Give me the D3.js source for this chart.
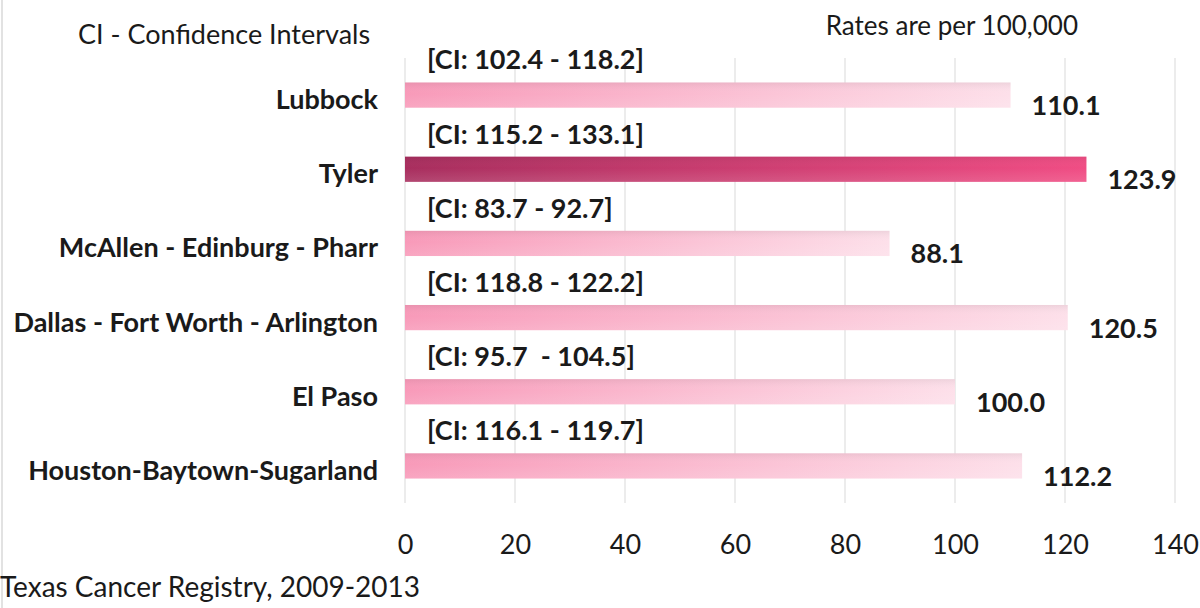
<!DOCTYPE html>
<html>
<head>
<meta charset="utf-8">
<script src="https://cdn.jsdelivr.net/npm/d3@7"></script>
<style>
  body { margin: 0; background: #fff; }
  svg text { font-family: Lato, "Open Sans", sans-serif; fill: #1a1a1a; }
</style>
</head>
<body>
<svg id="chart" width="1200" height="608"></svg>
<script>
// data
const areas = ['Lubbock', 'Tyler', 'McAllen - Edinburg - Pharr', 'Dallas - Fort Worth - Arlington', 'El Paso', 'Houston-Baytown-Sugarland'];
const rates = [110.1, 123.9, 88.1, 120.5, 100.0, 112.2];
const ciLabels = ['[CI: 102.4 - 118.2]', '[CI: 115.2 - 133.1]', '[CI: 83.7 - 92.7]', '[CI: 118.8 - 122.2]', '[CI: 95.7  - 104.5]', '[CI: 116.1 - 119.7]'];
const highlight = ['Tyler'];
const xTicks = [0, 20, 40, 60, 80, 100, 120, 140];

const width = 1200;
const height = 608;
const margin = { top: 58, right: 25, bottom: 105, left: 405 };

const svg = d3.select('#chart');

// left border of the picture
svg.append('line')
    .attr('x1', 2).attr('x2', 2).attr('y1', 0).attr('y2', height)
    .attr('stroke', '#d9d9d9').attr('stroke-width', 1.5);

const x = d3.scaleLinear().domain([0, 140]).range([margin.left, width - margin.right]);
const y = d3.scaleBand().domain(areas).range([margin.top, height - margin.bottom]).paddingInner(0.66).paddingOuter(0.33);

// gradients
const defs = svg.append('defs');
function hGrad(id, c1, c2) {
    const g = defs.append('linearGradient').attr('id', id).attr('x1', 0).attr('x2', 1).attr('y1', 0).attr('y2', 0);
    g.append('stop').attr('offset', '0%').attr('stop-color', c1);
    g.append('stop').attr('offset', '100%').attr('stop-color', c2);
}
hGrad('pale', '#f89ab9', '#fde0ea');
hGrad('dark', '#a82e5e', '#f04d84');
const shade = defs.append('linearGradient').attr('id', 'shade').attr('x1', 0).attr('x2', 0).attr('y1', 0).attr('y2', 1);
shade.append('stop').attr('offset', '0%').attr('stop-color', '#000').attr('stop-opacity', 0.06);
shade.append('stop').attr('offset', '45%').attr('stop-color', '#fff').attr('stop-opacity', 0);
shade.append('stop').attr('offset', '100%').attr('stop-color', '#fff').attr('stop-opacity', 0.12);

// gridlines
svg.append('g')
    .selectAll('line')
    .data(xTicks)
    .join('line')
    .attr('x1', d => x(d)).attr('x2', d => x(d))
    .attr('y1', margin.top).attr('y2', height - margin.bottom)
    .attr('stroke', '#d9d9d9').attr('stroke-width', 1);

// x axis labels
const xAxis = svg.append('g')
    .attr('transform', `translate(0,${height - margin.bottom})`)
    .call(d3.axisBottom(x).tickValues(xTicks).tickSize(0).tickPadding(32));
xAxis.select('.domain').remove();
xAxis.selectAll('text').style('font-size', '27px').style('font-family', 'Lato, sans-serif').attr('fill', '#1a1a1a');

// category labels
const yAxis = svg.append('g')
    .attr('transform', `translate(${margin.left},0)`)
    .call(d3.axisLeft(y).tickSize(0).tickPadding(27));
yAxis.select('.domain').remove();
yAxis.selectAll('text')
    .style('font-size', '27px').style('font-weight', 'bold').style('font-family', 'Lato, sans-serif')
    .attr('fill', '#1a1a1a').attr('dy', '0.52em');

const rows = areas.map((a, i) => ({ area: a, rate: rates[i], ci: ciLabels[i] }));

const bars = svg.append('g').selectAll('g').data(rows).join('g');
bars.append('rect')
    .attr('x', x(0))
    .attr('y', d => y(d.area))
    .attr('width', d => x(d.rate) - x(0))
    .attr('height', y.bandwidth())
    .attr('fill', d => highlight.includes(d.area) ? 'url(#dark)' : 'url(#pale)');
bars.append('rect')
    .attr('x', x(0))
    .attr('y', d => y(d.area))
    .attr('width', d => x(d.rate) - x(0))
    .attr('height', y.bandwidth())
    .attr('fill', 'url(#shade)');

// value labels
bars.append('text')
    .attr('x', d => x(d.rate) + 21)
    .attr('y', d => y(d.area) + y.bandwidth() / 2 + 20)
    .style('font-size', '27px').style('font-weight', 'bold')
    .text(d => d.rate.toFixed(1));

// confidence interval labels
bars.append('text')
    .attr('x', x(0) + 22)
    .attr('y', d => y(d.area) - 13)
    .style('font-size', '27px').style('font-weight', 'bold')
    .style('white-space', 'pre')
    .attr('xml:space', 'preserve')
    .text(d => d.ci);

svg.append('text')
    .attr('x', 78).attr('y', 44)
    .style('font-size', '27px')
    .text('CI - Confidence Intervals');

svg.append('text')
    .attr('x', 1078).attr('y', 35)
    .attr('text-anchor', 'end')
    .style('font-size', '26px')
    .text('Rates are per 100,000');

svg.append('text')
    .attr('x', 0).attr('y', 597)
    .style('font-size', '28px')
    .text('Texas Cancer Registry, 2009-2013');
</script>
</body>
</html>
